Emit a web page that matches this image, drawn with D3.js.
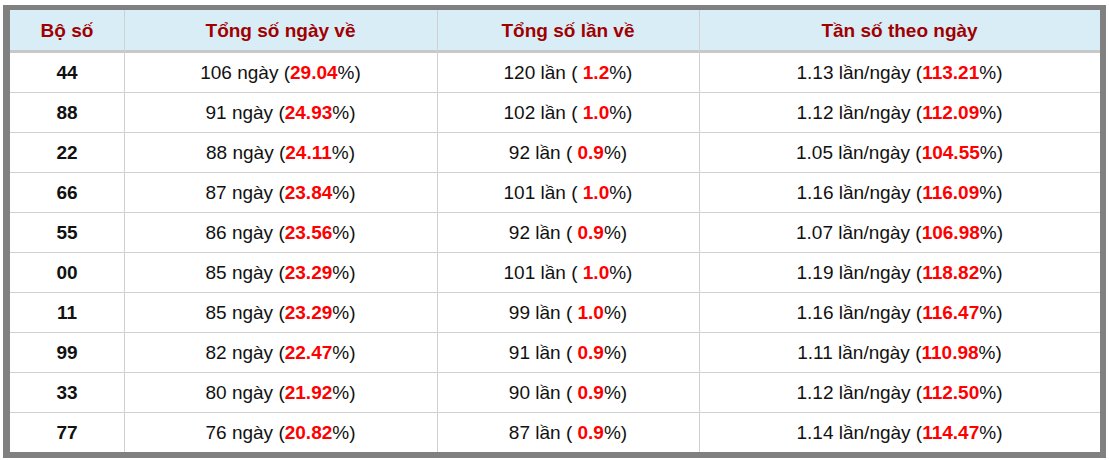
<!DOCTYPE html><html><head><meta charset="utf-8"><script src="https://cdn.jsdelivr.net/npm/d3@7"></script>
<style>body{margin:0;background:#fff}text{font-family:"Liberation Sans",Arial,sans-serif}</style></head><body><svg id="c" width="1109" height="460"></svg>
<script>
const headers=["Bộ số","Tổng số ngày về","Tổng số lần về","Tần số theo ngày"];
const pairs=["44","88","22","66","55","00","11","99","33","77"];
const days=[106,91,88,87,86,85,85,82,80,76];
const dayPct=["29.04","24.93","24.11","23.84","23.56","23.29","23.29","22.47","21.92","20.82"];
const times=[120,102,92,101,92,101,99,91,90,87];
const timePct=["1.2","1.0","0.9","1.0","0.9","1.0","1.0","0.9","0.9","0.9"];
const freq=["1.13","1.12","1.05","1.16","1.07","1.19","1.16","1.11","1.12","1.14"];
const freqPct=["113.21","112.09","104.55","116.09","106.98","118.82","116.47","110.98","112.50","114.47"];
(function(){
const svg=d3.select("#c");
const x0=10,x1=1100,tY=10,headH=40,rowH=40;
svg.append("rect").attr("x",3).attr("y",5).attr("width",1103).attr("height",453).attr("fill","#808080");
svg.append("rect").attr("x",x0).attr("y",tY).attr("width",x1-x0).attr("height",442).attr("fill","#fff");
const edges=[x0,124,437,699,x1];
const y=d3.scaleBand().domain(d3.range(pairs.length)).range([tY+headH+2,tY+headH+2+rowH*pairs.length]);
svg.append("rect").attr("x",x0).attr("y",tY).attr("width",x1-x0).attr("height",headH).attr("fill","#d9edf7");
svg.append("rect").attr("x",x0).attr("y",tY+headH).attr("width",x1-x0).attr("height",3).attr("fill","#c8c8c8");
pairs.forEach((p,i)=>{if(i>0)svg.append("line").attr("x1",x0).attr("x2",x1).attr("y1",y(i)+0.5).attr("y2",y(i)+0.5).attr("stroke","#d0d0d0");});
edges.slice(1,-1).forEach(e=>svg.append("line").attr("x1",e+0.5).attr("x2",e+0.5).attr("y1",tY).attr("y2",452).attr("stroke","#d0d0d0"));
const cx=i=>(edges[i]+edges[i+1])/2;
headers.forEach((h,i)=>svg.append("text").attr("x",cx(i)).attr("y",tY+headH/2+7).attr("text-anchor","middle").attr("font-size",19).attr("font-weight","bold").attr("fill","#a00000").text(h));
function cell(i,r,parts){const t=svg.append("text").attr("x",cx(i)).attr("y",y(r)+y.bandwidth()/2+7).attr("text-anchor","middle").attr("font-size",19).attr("fill","#111");
parts.forEach(([s,red])=>{const ts=t.append("tspan").text(s);if(red)ts.attr("fill","#ff0000").attr("font-weight","bold");});return t;}
pairs.forEach((p,r)=>{
cell(0,r,[[p,false]]).attr("font-weight","bold");
cell(1,r,[[days[r]+" ngày (",false],[dayPct[r],true],["%)",false]]);
cell(2,r,[[times[r]+" lần ( ",false],[timePct[r],true],["%)",false]]);
cell(3,r,[[freq[r]+" lần/ngày (",false],[freqPct[r],true],["%)",false]]);
});
})();
</script></body></html>
